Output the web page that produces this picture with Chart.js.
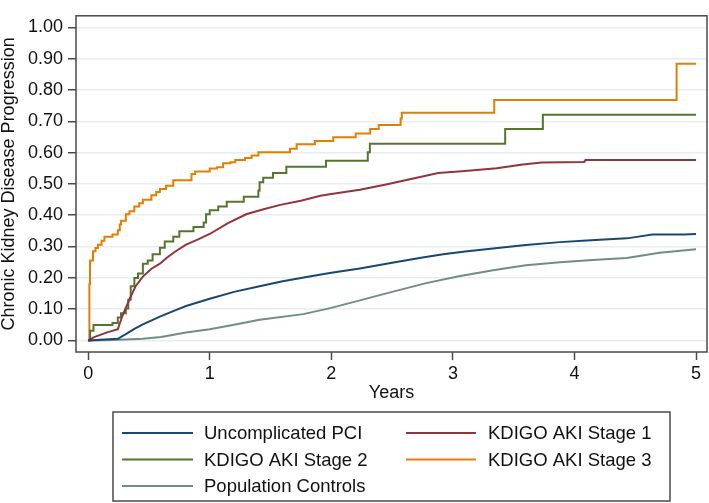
<!DOCTYPE html>
<html>
<head>
<meta charset="utf-8">
<script src="https://cdn.jsdelivr.net/npm/chart.js@4.4.1/dist/chart.umd.min.js"></script>
<style>
  html, body { margin: 0; padding: 0; background: #ffffff; }
  #wrap { width: 709px; height: 503px; }
</style>
</head>
<body>
<div id="wrap"><canvas id="c" width="709" height="503"></canvas></div>
<script>
// ---- Data ----
const seriesLabels = ["Uncomplicated PCI", "KDIGO AKI Stage 1", "KDIGO AKI Stage 2", "KDIGO AKI Stage 3", "Population Controls"];
const seriesColors = ["#1a476f", "#90353b", "#55752f", "#e37e00", "#6e8e84"];

const xTickValues = [0, 1, 2, 3, 4, 5];
const yTickValues = [0, 0.1, 0.2, 0.3, 0.4, 0.5, 0.6, 0.7, 0.8, 0.9, 1.0];

const pciYears = [0, 0.1, 0.244, 0.31, 0.38, 0.45, 0.59, 0.72, 0.805, 1.0, 1.2, 1.41, 1.6, 1.82, 2.0, 2.235, 2.5, 2.75, 2.92, 3.1, 3.33, 3.6, 3.88, 4.1, 4.43, 4.5, 4.64, 4.9, 5.0];
const pciRisk  = [0, 0.002, 0.005, 0.020, 0.037, 0.051, 0.076, 0.097, 0.110, 0.133, 0.155, 0.173, 0.189, 0.204, 0.216, 0.230, 0.248, 0.265, 0.275, 0.284, 0.294, 0.305, 0.314, 0.319, 0.326, 0.330, 0.338, 0.338, 0.340];

const aki1Years = [0, 0.044, 0.15, 0.244, 0.285, 0.34, 0.39, 0.45, 0.52, 0.59, 0.65, 0.72, 0.805, 0.9, 1.0, 1.15, 1.30, 1.45, 1.58, 1.75, 1.91, 2.0, 2.235, 2.45, 2.646, 2.88, 3.1, 3.36, 3.575, 3.73, 4.08, 4.09, 5.0];
const aki1Risk  = [0, 0.010, 0.025, 0.036, 0.082, 0.132, 0.173, 0.204, 0.229, 0.245, 0.265, 0.285, 0.306, 0.322, 0.340, 0.375, 0.403, 0.420, 0.433, 0.446, 0.462, 0.468, 0.481, 0.498, 0.515, 0.535, 0.541, 0.550, 0.562, 0.568, 0.570, 0.576, 0.576];

const aki2Years = [0, 0.016, 0.044, 0.20, 0.244, 0.27, 0.31, 0.33, 0.35, 0.38, 0.41, 0.45, 0.49, 0.53, 0.59, 0.63, 0.70, 0.75, 0.866, 0.95, 0.97, 1.0, 1.07, 1.14, 1.28, 1.40, 1.41, 1.44, 1.52, 1.63, 1.956, 2.30, 2.317, 3.43, 3.74, 5.0];
const aki2Risk  = [0, 0.031, 0.049, 0.056, 0.073, 0.087, 0.102, 0.130, 0.173, 0.199, 0.214, 0.245, 0.255, 0.275, 0.296, 0.316, 0.331, 0.349, 0.362, 0.377, 0.403, 0.416, 0.428, 0.443, 0.459, 0.479, 0.505, 0.520, 0.535, 0.555, 0.574, 0.601, 0.628, 0.675, 0.721, 0.721];

const aki3Years = [0, 0.01, 0.015, 0.04, 0.06, 0.08, 0.11, 0.134, 0.20, 0.244, 0.26, 0.27, 0.31, 0.34, 0.38, 0.42, 0.45, 0.52, 0.56, 0.59, 0.64, 0.70, 0.85, 0.88, 1.0, 1.06, 1.11, 1.17, 1.21, 1.29, 1.345, 1.40, 1.66, 1.715, 1.865, 2.016, 2.20, 2.32, 2.39, 2.57, 2.58, 3.34, 4.84, 5.0];
const aki3Risk  = [0, 0.18, 0.255, 0.285, 0.295, 0.306, 0.318, 0.331, 0.338, 0.352, 0.370, 0.382, 0.403, 0.413, 0.428, 0.438, 0.449, 0.464, 0.474, 0.484, 0.494, 0.512, 0.532, 0.540, 0.549, 0.553, 0.566, 0.569, 0.576, 0.583, 0.591, 0.601, 0.612, 0.627, 0.637, 0.649, 0.661, 0.675, 0.688, 0.709, 0.727, 0.768, 0.884, 0.884];

const popYears = [0, 0.2, 0.45, 0.6, 0.805, 1.0, 1.2, 1.41, 1.77, 2.0, 2.235, 2.5, 2.78, 3.05, 3.33, 3.6, 3.88, 4.15, 4.43, 4.7, 5.0];
const popRisk  = [0, 0.001, 0.005, 0.011, 0.025, 0.036, 0.050, 0.066, 0.084, 0.104, 0.128, 0.155, 0.183, 0.205, 0.224, 0.240, 0.250, 0.257, 0.263, 0.280, 0.291];

// ---- Build datasets ----
function pts(xs, ys) { return xs.map((x, i) => ({ x: x, y: ys[i] })); }
const seriesData = [pts(pciYears, pciRisk), pts(aki1Years, aki1Risk), pts(aki2Years, aki2Risk), pts(aki3Years, aki3Risk), pts(popYears, popRisk)];
const seriesStepped = [false, false, true, true, false];

const datasets = seriesLabels.map((lab, i) => ({
  label: lab,
  data: seriesData[i],
  borderColor: seriesColors[i],
  backgroundColor: seriesColors[i],
  borderWidth: 2,
  pointRadius: 0,
  pointHoverRadius: 0,
  fill: false,
  tension: 0,
  stepped: seriesStepped[i] ? 'before' : false
}));

const FONT = "'Liberation Sans', Arial, Helvetica, sans-serif";
const TEXT = "#111111";
const AXIS = "#4a4a4a";

// Frame + custom two-column legend
const frameLegend = {
  id: 'frameLegend',
  afterDatasetsDraw(chart) {
    const { ctx, chartArea: a } = chart;
    ctx.save();
    ctx.strokeStyle = AXIS;
    ctx.lineWidth = 1.5;
    ctx.strokeRect(a.left, a.top, a.right - a.left, a.bottom - a.top);
    ctx.restore();
  },
  afterDraw(chart) {
    const ctx = chart.ctx;
    const box = { x: 113, y: 412, w: 557, h: 89 };
    const rows = [433, 459.5, 486];
    const cols = [{ l0: 122, l1: 193, t: 204 }, { l0: 406, l1: 476, t: 488 }];
    const slots = [[0, 0], [1, 0], [0, 1], [1, 1], [0, 2]];
    ctx.save();
    ctx.fillStyle = '#ffffff';
    ctx.fillRect(box.x, box.y, box.w, box.h);
    ctx.strokeStyle = AXIS;
    ctx.lineWidth = 1.5;
    ctx.strokeRect(box.x, box.y, box.w, box.h);
    ctx.font = "18.5px " + FONT;
    ctx.textBaseline = 'middle';
    ctx.textAlign = 'left';
    chart.data.datasets.forEach((ds, i) => {
      const c = cols[slots[i][0]];
      const y = rows[slots[i][1]];
      ctx.strokeStyle = ds.borderColor;
      ctx.lineWidth = 2;
      ctx.beginPath();
      ctx.moveTo(c.l0, y);
      ctx.lineTo(c.l1, y);
      ctx.stroke();
      ctx.fillStyle = TEXT;
      ctx.fillText(ds.label, c.t, y + 1);
    });
    ctx.restore();
  }
};

new Chart(document.getElementById('c'), {
  type: 'line',
  data: { datasets: datasets },
  options: {
    responsive: false,
    animation: false,
    events: [],
    layout: { padding: { left: 0, right: 2, top: 1, bottom: 96 } },
    plugins: { legend: { display: false }, tooltip: { enabled: false } },
    scales: {
      x: {
        type: 'linear',
        min: -0.1,
        max: 5.09,
        afterBuildTicks: (s) => { s.ticks = xTickValues.map(v => ({ value: v })); },
        afterFit: (s) => { s.height = 55; },
        ticks: {
          color: TEXT,
          font: { family: FONT, size: 18 },
          padding: 3,
          maxRotation: 0,
          callback: (v) => String(v)
        },
        grid: { drawOnChartArea: false, drawTicks: true, tickLength: 8, tickColor: AXIS, tickWidth: 1.5 },
        border: { display: false },
        title: { display: true, text: 'Years', color: TEXT, font: { family: FONT, size: 18, lineHeight: 1 }, padding: { top: 0, bottom: 5 } }
      },
      y: {
        type: 'linear',
        min: -0.037,
        max: 1.037,
        afterBuildTicks: (s) => { s.ticks = yTickValues.map(v => ({ value: v })); },
        afterFit: (s) => { s.width = 76; },
        ticks: {
          color: TEXT,
          font: { family: FONT, size: 18 },
          padding: 5,
          callback: (v) => Number(v).toFixed(2)
        },
        grid: { color: '#e6eef1', lineWidth: 1.5, drawTicks: true, tickLength: 8, tickColor: AXIS, tickWidth: 1.5 },
        border: { display: false },
        title: { display: true, text: 'Chronic Kidney Disease Progression', color: TEXT, font: { family: FONT, size: 18, lineHeight: 1 }, padding: { top: 0, bottom: 0 } }
      }
    }
  },
  plugins: [frameLegend]
});
</script>
</body>
</html>
